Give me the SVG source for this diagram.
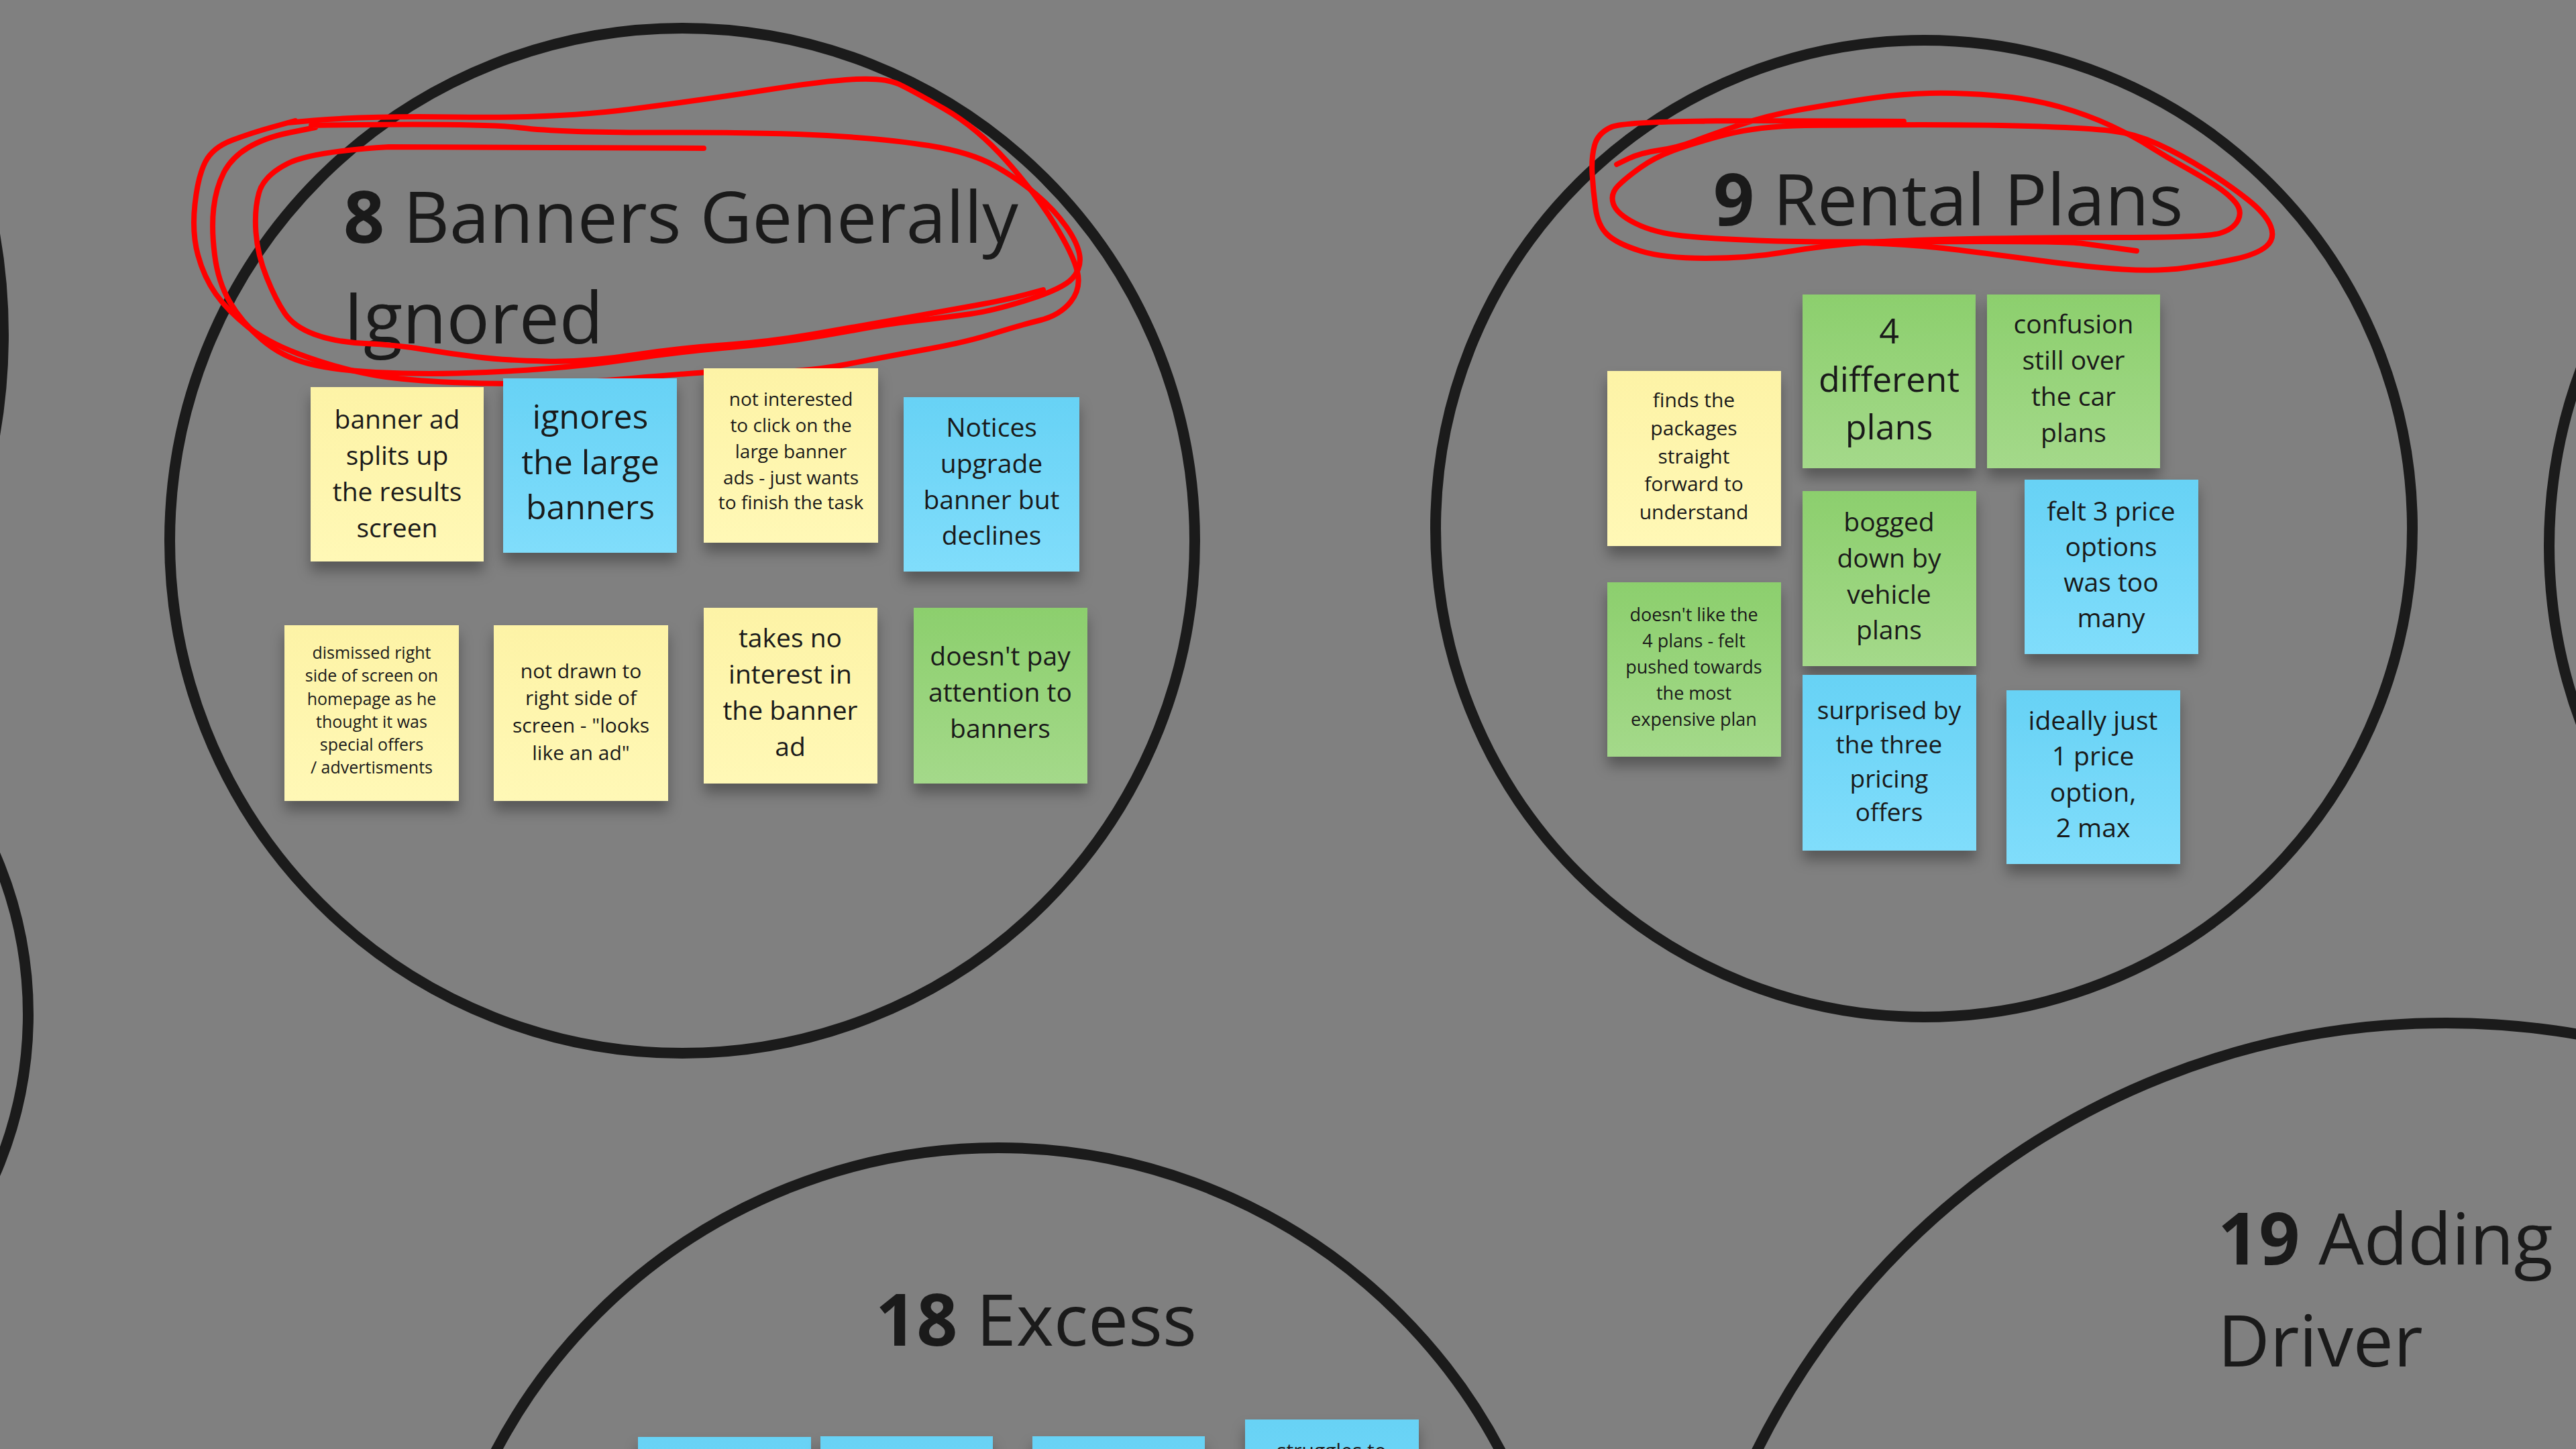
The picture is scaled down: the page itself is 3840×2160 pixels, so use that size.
<svg xmlns="http://www.w3.org/2000/svg" width="3840" height="2160" viewBox="0 0 3840 2160">
<defs>
<linearGradient id="gy" x1="0" y1="0" x2="0" y2="1"><stop offset="0" stop-color="#fdf3a6"/><stop offset="1" stop-color="#fff8b6"/></linearGradient>
<linearGradient id="gb" x1="0" y1="0" x2="0" y2="1"><stop offset="0" stop-color="#67d2f5"/><stop offset="1" stop-color="#80ddfb"/></linearGradient>
<linearGradient id="gg" x1="0" y1="0" x2="0" y2="1"><stop offset="0" stop-color="#8ccf6d"/><stop offset="1" stop-color="#a4d98a"/></linearGradient>
<filter id="sh" x="-20%" y="-20%" width="140%" height="150%"><feDropShadow dx="0" dy="14" stdDeviation="10" flood-color="#000" flood-opacity="0.32"/></filter>
</defs>
<style>
.ring{fill:none;stroke:#1b1b1b;stroke-width:16}
.red{fill:none;stroke:#ff0000;stroke-width:8;stroke-linecap:round;stroke-linejoin:round}
.y{fill:url(#gy);filter:url(#sh)}
.b{fill:url(#gb);filter:url(#sh)}
.g{fill:url(#gg);filter:url(#sh)}
text{font-family:"Open Sans","Noto Sans","DejaVu Sans",sans-serif;fill:#1a1a1a}
.t{font-size:107px}
.n{text-anchor:middle}
.bold{font-weight:700}
</style>
<rect width="3840" height="2160" fill="#808080"/>

<g id="edge-circles">
<circle class="ring" cx="-860" cy="499" r="865"/>
<circle class="ring" cx="-557" cy="1512" r="599"/>
<circle class="ring" cx="4557" cy="814" r="757"/>
</g>

<g id="cluster-8">
<circle class="ring" cx="1017" cy="806" r="764"/>
<text class="t" x="512" y="362"><tspan class="bold">8</tspan> Banners Generally</text>
<text class="t" x="512" y="512">Ignored</text>
</g>

<g id="cluster-9">
<circle class="ring" cx="2868" cy="788" r="728"/>
<text class="t" x="2554" y="336"><tspan class="bold">9</tspan> Rental Plans</text>
</g>

<g id="cluster-18">
<circle class="ring" cx="1488" cy="2557" r="846"/>
<text class="t" x="1305" y="2006"><tspan class="bold">18</tspan> Excess</text>
</g>

<g id="cluster-19">
<circle class="ring" cx="3646" cy="2671" r="1146"/>
<text class="t" x="3306" y="1885"><tspan class="bold">19</tspan> Adding</text>
<text class="t" x="3306" y="2037">Driver</text>
</g>

<g id="scribbles">
<path class="red" d="M429,183 Q527,172 678.5,174.5 Q830,177 942,162.5 Q1054,148 1143,134 Q1232,120 1276,118 Q1320,116 1340,125.5 Q1360,135 1408,162.5 Q1456,190 1500.5,240 Q1545,290 1572.5,335 Q1600,380 1606,405 Q1612,430 1596,450 Q1580,470 1550,477.5 Q1520,485 1480,497.5 Q1440,510 1385,520 Q1330,530 1265,542.5 Q1200,555 1149,553.5 Q1098,552 1053.5,555 Q1009,558 942,564 Q875,570 808,571.5 Q741,573 674,570 Q607,567 562.5,560 Q518,553 460,533 Q402,513 370.5,488 Q339,463 321.5,438 Q304,413 295,380 Q286,347 290.5,305 Q295,263 306,241.5 Q317,220 346,209 Q375,198 407.5,189 L440,180"/>
<path class="red" d="M464,187 Q714,183 776.5,190.5 Q839,198 991,197.5 Q1143,197 1232.5,202 Q1322,207 1384.5,217 Q1447,227 1482.5,247 Q1518,267 1545,290 Q1572,313 1589.5,338 Q1607,363 1609.5,381.5 Q1612,400 1598.5,415 Q1585,430 1533.5,446.5 Q1482,463 1446.5,468 Q1411,473 1366.5,478 Q1322,483 1277,491.5 Q1232,500 1187.5,506.5 Q1143,513 1076,519 Q1009,525 942,535 Q875,545 808,550 Q741,555 680.5,556.5 Q620,558 560,555 Q500,552 460,542 Q420,532 390,506 Q360,480 342.5,450 Q325,420 320,380 Q315,340 318.5,310 Q322,280 333.5,257.5 Q345,235 370,220 Q395,205 432.5,197.5 L470,190"/>
<path class="red" d="M1049,221 L580,219 Q464,226 428.5,244 Q393,262 386,287.5 Q379,313 381.5,346.5 Q384,380 397.5,413.5 Q411,447 424.5,467 Q438,487 469,498.5 Q500,510 544.5,512 Q589,514 629.5,520.5 Q670,527 710,532 Q750,537 812.5,538.5 Q875,540 942,529.5 Q1009,519 1076,514.5 Q1143,510 1210,498.5 Q1277,487 1344,475 Q1411,463 1455.5,455 Q1500,447 1527.5,439.5 L1555,432"/>
<path class="red" d="M2838,181 L2621,180 Q2424,180 2403,189 Q2382,198 2377,216.5 Q2372,235 2373.5,260 Q2375,285 2378.5,310.5 Q2382,336 2396,349.5 Q2410,363 2445,374 Q2480,385 2543.5,385 Q2607,385 2663,375.5 Q2719,366 2775,362 Q2831,358 2936.5,356 Q3042,354 3164.5,354 Q3287,354 3308,348 Q3329,342 3336,328.5 Q3343,315 3332.5,302 Q3322,289 3301,275.5 Q3280,262 3255.5,248.5 Q3231,235 3206.5,219.5 Q3182,204 3147,187.5 Q3112,171 3069.5,159 Q3027,147 2974.5,142.5 Q2922,138 2876.5,139 Q2831,140 2778.5,148 Q2726,156 2680.5,164 Q2635,172 2592.5,186.5 Q2550,201 2525.5,210.5 Q2501,220 2473,224 Q2445,228 2427.5,236.5 L2410,245"/>
<path class="red" d="M3185,374 Q3126,366 3105,363 Q3084,360 2964.5,360 Q2845,360 2768,360.5 Q2691,361 2620.5,358.5 Q2550,356 2508,351.5 Q2466,347 2438,333 Q2410,319 2405,304 Q2400,289 2412,277 Q2424,265 2445,250 Q2466,235 2494,224.5 Q2522,214 2571.5,201 Q2621,188 2691,187 Q2761,186 2866,186 Q2971,186 3041.5,188.5 Q3112,191 3147,195 Q3182,199 3217,215 Q3252,231 3287,253 Q3322,275 3350,297 Q3378,319 3385,337.5 Q3392,356 3378,367.5 Q3364,379 3332.5,386 Q3301,393 3259,399 Q3217,405 3164.5,401.5 Q3112,398 3041.5,388.5 Q2971,379 2918.5,372.5 Q2866,366 2813.5,363.5 L2761,361"/>
</g>

<g id="connectors"/>

<g id="note-banner-ad-splits">
<rect class="y" x="463" y="577" width="258" height="260"/>
<text class="n" font-size="39"><tspan x="592" y="639">banner ad</tspan><tspan x="592" y="693">splits up</tspan><tspan x="592" y="747">the results</tspan><tspan x="592" y="801">screen</tspan></text>
</g>
<g id="note-ignores-large-banners">
<rect class="b" x="750" y="564" width="259" height="260"/>
<text class="n" font-size="50"><tspan x="880" y="639">ignores</tspan><tspan x="880" y="707">the large</tspan><tspan x="880" y="774">banners</tspan></text>
</g>
<g id="note-not-interested">
<rect class="y" x="1049" y="549" width="260" height="260"/>
<text class="n" font-size="28"><tspan x="1179" y="605">not interested</tspan><tspan x="1179" y="644">to click on the</tspan><tspan x="1179" y="683">large banner</tspan><tspan x="1179" y="722">ads - just wants</tspan><tspan x="1179" y="759">to finish the task</tspan></text>
</g>
<g id="note-notices-upgrade">
<rect class="b" x="1347" y="592" width="262" height="260"/>
<text class="n" font-size="39"><tspan x="1478" y="651">Notices</tspan><tspan x="1478" y="705">upgrade</tspan><tspan x="1478" y="759">banner but</tspan><tspan x="1478" y="812">declines</tspan></text>
</g>
<g id="note-dismissed-right-side">
<rect class="y" x="424" y="932" width="260" height="262"/>
<text class="n" font-size="25"><tspan x="554" y="982">dismissed right</tspan><tspan x="554" y="1016">side of screen on</tspan><tspan x="554" y="1051">homepage as he</tspan><tspan x="554" y="1085">thought it was</tspan><tspan x="554" y="1119">special offers</tspan><tspan x="554" y="1153">/ advertisments</tspan></text>
</g>
<g id="note-not-drawn">
<rect class="y" x="736" y="932" width="260" height="262"/>
<text class="n" font-size="30"><tspan x="866" y="1011">not drawn to</tspan><tspan x="866" y="1051">right side of</tspan><tspan x="866" y="1092">screen - "looks</tspan><tspan x="866" y="1133">like an ad"</tspan></text>
</g>
<g id="note-takes-no-interest">
<rect class="y" x="1049" y="906" width="259" height="262"/>
<text class="n" font-size="39"><tspan x="1178" y="965">takes no</tspan><tspan x="1178" y="1019">interest in</tspan><tspan x="1178" y="1073">the banner</tspan><tspan x="1178" y="1127">ad</tspan></text>
</g>
<g id="note-doesnt-pay-attention">
<rect class="g" x="1362" y="906" width="259" height="262"/>
<text class="n" font-size="39"><tspan x="1491" y="992">doesn't pay</tspan><tspan x="1491" y="1046">attention to</tspan><tspan x="1491" y="1100">banners</tspan></text>
</g>

<g id="note-finds-packages">
<rect class="y" x="2396" y="553" width="259" height="261"/>
<text class="n" font-size="30"><tspan x="2525" y="607">finds the</tspan><tspan x="2525" y="649">packages</tspan><tspan x="2525" y="691">straight</tspan><tspan x="2525" y="732">forward to</tspan><tspan x="2525" y="774">understand</tspan></text>
</g>
<g id="note-4-different-plans">
<rect class="g" x="2687" y="439" width="258" height="259"/>
<text class="n" font-size="52"><tspan x="2816" y="512">4</tspan><tspan x="2816" y="584">different</tspan><tspan x="2816" y="655">plans</tspan></text>
</g>
<g id="note-confusion">
<rect class="g" x="2962" y="439" width="258" height="259"/>
<text class="n" font-size="39"><tspan x="3091" y="497">confusion</tspan><tspan x="3091" y="551">still over</tspan><tspan x="3091" y="605">the car</tspan><tspan x="3091" y="659">plans</tspan></text>
</g>
<g id="note-doesnt-like-4-plans">
<rect class="g" x="2396" y="868" width="259" height="260"/>
<text class="n" font-size="27"><tspan x="2525" y="926">doesn't like the</tspan><tspan x="2525" y="965">4 plans - felt</tspan><tspan x="2525" y="1004">pushed towards</tspan><tspan x="2525" y="1043">the most</tspan><tspan x="2525" y="1082">expensive plan</tspan></text>
</g>
<g id="note-bogged-down">
<rect class="g" x="2687" y="732" width="259" height="261"/>
<text class="n" font-size="39"><tspan x="2816" y="792">bogged</tspan><tspan x="2816" y="846">down by</tspan><tspan x="2816" y="900">vehicle</tspan><tspan x="2816" y="953">plans</tspan></text>
</g>
<g id="note-felt-3-price">
<rect class="b" x="3018" y="715" width="259" height="260"/>
<text class="n" font-size="39"><tspan x="3147" y="776">felt 3 price</tspan><tspan x="3147" y="829">options</tspan><tspan x="3147" y="882">was too</tspan><tspan x="3147" y="935">many</tspan></text>
</g>
<g id="note-surprised">
<rect class="b" x="2687" y="1006" width="259" height="262"/>
<text class="n" font-size="37"><tspan x="2816" y="1072">surprised by</tspan><tspan x="2816" y="1123">the three</tspan><tspan x="2816" y="1174">pricing</tspan><tspan x="2816" y="1224">offers</tspan></text>
</g>
<g id="note-ideally-one">
<rect class="b" x="2991" y="1029" width="259" height="259"/>
<text class="n" font-size="39"><tspan x="3120" y="1088">ideally just</tspan><tspan x="3120" y="1141">1 price</tspan><tspan x="3120" y="1195">option,</tspan><tspan x="3120" y="1248">2 max</tspan></text>
</g>

<g id="note-excess-1"><rect class="b" x="951" y="2142" width="258" height="260"/></g>
<g id="note-excess-2"><rect class="b" x="1223" y="2141" width="257" height="260"/></g>
<g id="note-excess-3"><rect class="b" x="1539" y="2141" width="257" height="260"/></g>
<g id="note-excess-4">
<rect class="b" x="1856" y="2116" width="259" height="260"/>
<text class="n" font-size="30" x="1985" y="2173">struggles to</text>
</g>
</svg>
